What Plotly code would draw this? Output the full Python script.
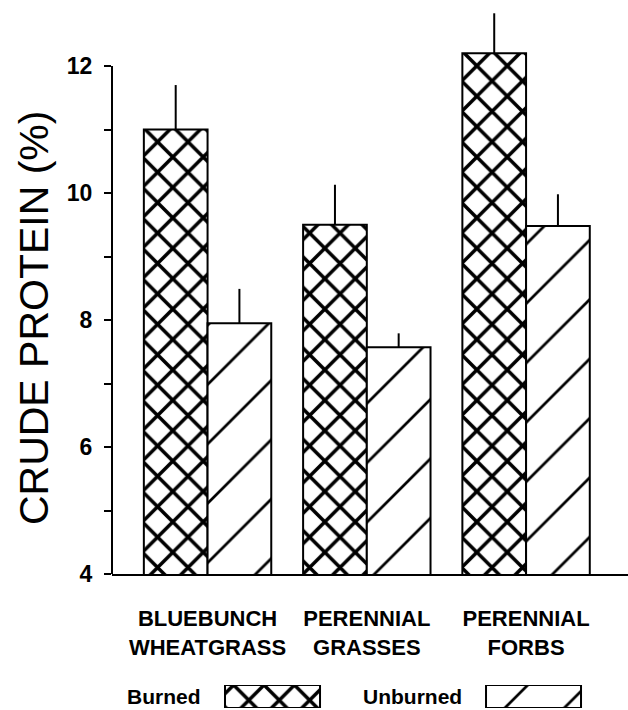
import plotly.graph_objects as go

# ---- data ----
categories = ["BLUEBUNCH<br>WHEATGRASS", "PERENNIAL<br>GRASSES", "PERENNIAL<br>FORBS"]
series_names = ["Burned", "Unburned"]
burned = [11.0, 9.5, 12.2]
burned_err = [0.70, 0.63, 0.63]
unburned = [7.95, 7.57, 9.48]
unburned_err = [0.54, 0.22, 0.50]
y_ticks = [4, 6, 8, 10, 12]
y_title = "CRUDE PROTEIN (%)"

FONT = "Liberation Sans, Arial, Helvetica, sans-serif"

patterns = {
    "Burned": dict(shape="x", size=21.5, solidity=0.3, fgcolor="#000000", bgcolor="#ffffff",
                   fgopacity=1, fillmode="replace"),
    "Unburned": dict(shape="/", size=42, solidity=0.065, fgcolor="#000000", bgcolor="#ffffff",
                     fgopacity=1, fillmode="replace"),
}

fig = go.Figure()

for name, vals, errs in [("Burned", burned, burned_err), ("Unburned", unburned, unburned_err)]:
    fig.add_trace(go.Bar(
        x=categories, y=vals, name=name, showlegend=False,
        marker=dict(color="white", line=dict(color="black", width=2), pattern=patterns[name]),
        error_y=dict(type="data", symmetric=False, array=errs, arrayminus=[0] * len(errs),
                     color="black", thickness=2, width=0),
        xaxis="x", yaxis="y",
    ))

# legend swatches drawn as bars on a small hidden axis pair
fig.add_trace(go.Bar(
    x=list(range(len(series_names))), y=[1] * len(series_names), width=0.364,
    marker=dict(color="white", line=dict(color="black", width=2),
                pattern=dict(shape=[patterns[n]["shape"] for n in series_names],
                             size=[patterns[n]["size"] for n in series_names],
                             solidity=[patterns[n]["solidity"] for n in series_names],
                             fgcolor="#000000", bgcolor="#ffffff", fgopacity=1, fillmode="replace")),
    showlegend=False, hoverinfo="skip", xaxis="x2", yaxis="y2",
))

annotations = [
    dict(text=y_title, textangle=-90, xref="paper", yref="paper",
         x=-0.151, y=(710 - 318) / 705, xanchor="center", yanchor="middle", showarrow=False,
         font=dict(family=FONT, size=41, color="black")),
]
for i, n in enumerate(series_names):
    annotations.append(dict(text=n, xref="x2", yref="y2", x=i - 0.265, y=0.5,
                            xanchor="right", yanchor="middle", showarrow=False,
                            font=dict(family=FONT, size=21, color="black", weight="bold")))

fig.update_layout(
    width=628, height=710,
    margin=dict(l=112, r=0, t=5, b=0, autoexpand=False),
    showlegend=False,
    paper_bgcolor="white", plot_bgcolor="white",
    barmode="group", bargap=0.2, bargroupgap=0,
    font=dict(family=FONT, color="black"),
    xaxis=dict(domain=[0, 1], anchor="y", type="category", range=[-0.6, 2.64],
               showline=True, linecolor="black", linewidth=2, ticks="",
               showgrid=False, zeroline=False, automargin=False,
               tickfont=dict(family=FONT, size=22, color="black", weight="bold"),
               ticklabelstandoff=24),
    yaxis=dict(domain=[136 / 705, 1], anchor="x", range=[4, 4 + 569 / 63.5],
               tickmode="array", tickvals=y_ticks, ticktext=[str(v) for v in y_ticks],
               ticks="outside", ticklen=7, tickwidth=2, tickcolor="black",
               minor=dict(dtick=1, tick0=4, ticks="outside", ticklen=7, tickwidth=2, tickcolor="black"),
               showline=False, showgrid=False, zeroline=False, automargin=False,
               tickfont=dict(family=FONT, size=23, color="black", weight="bold"),
               ticklabelstandoff=7),
    xaxis2=dict(domain=[0, 1], anchor="y2", range=[-0.615, 1.362], visible=False, automargin=False),
    yaxis2=dict(domain=[2 / 705, 25 / 705], anchor="x2", range=[0, 1], visible=False, automargin=False),
    shapes=[dict(type="line", xref="paper", yref="y", x0=0, x1=0, y0=y_ticks[0], y1=y_ticks[-1],
                 line=dict(color="black", width=2))],
    annotations=annotations,
)

fig.write_html("out.html", config={"displayModeBar": False},
               post_script="document.body.style.margin='0px';document.body.style.overflow='hidden';")
